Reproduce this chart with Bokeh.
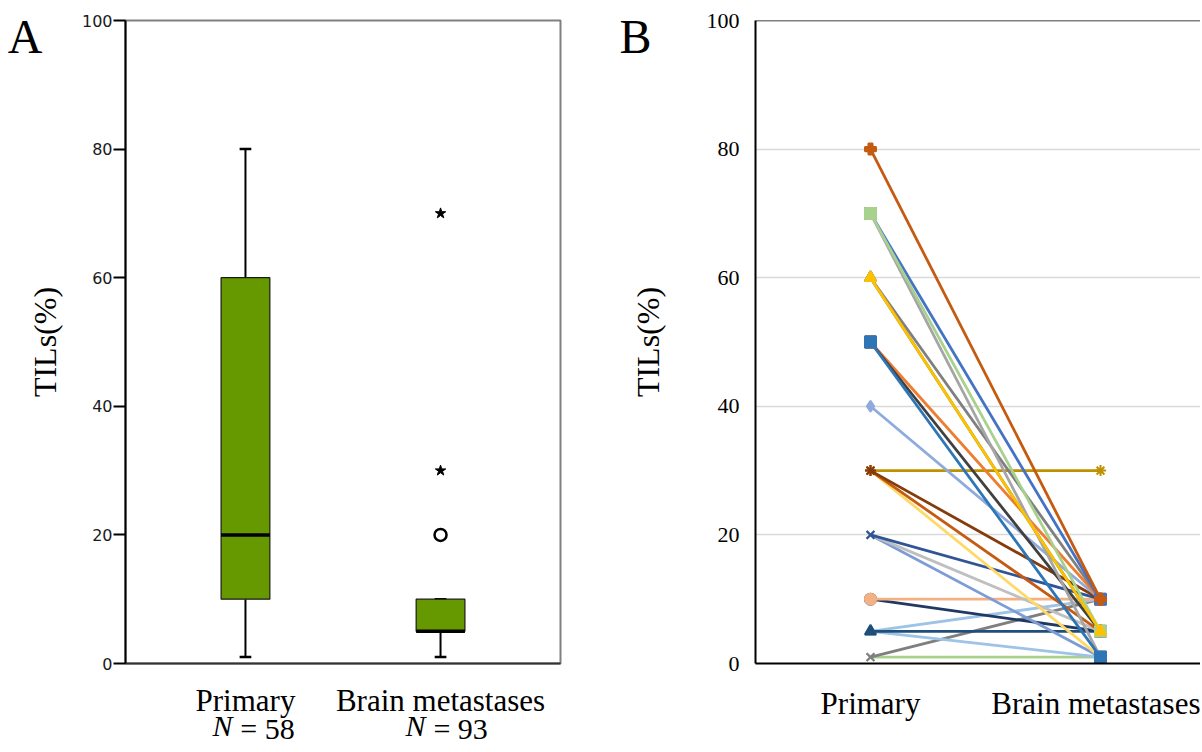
import numpy as np
from bokeh.plotting import figure
from bokeh.layouts import row
from bokeh.models import Span, FixedTicker, Range1d, LinearAxis
from bokeh.embed import file_html
from bokeh.resources import INLINE

# ---------------- Panel A data (box plot) ----------------
groups = ["Primary", "Brain metastases"]
group_n = [58, 93]
whisker_low = [1, 1]
q1 = [10, 5]
median = [20, 5]
q3 = [60, 10]
whisker_high = [80, 10]
mild_outlier_group = [2]
mild_outlier_val = [20]
extreme_outlier_group = [2, 2]
extreme_outlier_val = [30, 70]
y_ticks = [0, 20, 40, 60, 80, 100]
panel_letters = ["A", "B"]

# ---------------- Panel B data (paired lines) ----------------
primary_tils = [1, 1, 5, 5, 5, 10, 10, 20, 20, 20, 30, 30, 30, 30, 40,
                50, 50, 60, 60, 70, 70, 70, 60, 80, 50]
brain_tils = [1, 10, 1, 10, 5, 5, 10, 1, 5, 10, 30, 1, 5, 10, 10,
              10, 5, 5, 10, 1, 10, 5, 5, 10, 1]
series_colors = ["#A9D18E", "#7F7F7F", "#9DC3E6", "#9DC3E6", "#1F4E79",
                 "#203864", "#F4B183", "#7C9CD6", "#BFBFBF", "#2F5597",
                 "#BF9000", "#FFD966", "#C55A11", "#843C0C", "#8FAADC",
                 "#ED7D31", "#404040", "#548235", "#7F7F7F", "#A5A5A5",
                 "#4472C4", "#A9D18E", "#FFC000", "#C55A11", "#2E75B6"]
series_markers = ["x", "x", "triangle", "triangle", "triangle",
                  "circle", "circle", "x", "x", "x",
                  "asterisk", "asterisk", "asterisk", "asterisk", "diamond",
                  "square", "square", "triangle", "triangle", "square",
                  "square", "square", "triangle", "plus", "square"]

SERIF = "Liberation Serif"
H = 750


def text_axis(p, side, ticks, labels, size, standoff, style="normal", font=SERIF):
    ticks = [round(float(t), 3) for t in ticks]
    axis = LinearAxis(ticker=FixedTicker(ticks=ticks),
                      major_label_overrides={t: l for t, l in zip(ticks, labels)})
    axis.axis_line_color = None
    axis.major_tick_line_color = None
    axis.minor_tick_line_color = None
    axis.major_tick_out = 0
    axis.major_tick_in = 0
    axis.major_label_text_font = font
    axis.major_label_text_font_size = size
    axis.major_label_text_font_style = style
    axis.major_label_text_color = "black"
    axis.major_label_standoff = standoff
    p.add_layout(axis, side)
    return axis


# ============ Panel A ============
pa = figure(width=603, height=H, output_backend="svg", toolbar_location=None,
            x_range=Range1d(0.385, 2.615), y_range=Range1d(0, 100),
            min_border_left=125, min_border_right=43, min_border_top=20,
            min_border_bottom=H - 663)
pa.outline_line_color = "#808080"
pa.outline_line_width = 2
pa.xgrid.visible = False
pa.ygrid.visible = False

gx = np.arange(1, len(groups) + 1)
bw = 0.125
cw = 0.03
pa.segment(x0=gx, x1=gx, y0=q3, y1=whisker_high, line_color="black", line_width=2)
pa.segment(x0=gx, x1=gx, y0=q1, y1=whisker_low, line_color="black", line_width=2)
pa.segment(x0=gx - cw, x1=gx + cw, y0=whisker_high, y1=whisker_high, line_color="black", line_width=2.5)
pa.segment(x0=gx - cw, x1=gx + cw, y0=whisker_low, y1=whisker_low, line_color="black", line_width=2.5)
pa.quad(left=gx - bw, right=gx + bw, bottom=q1, top=q3, fill_color="#669900",
        line_color="#1a1a1a", line_width=1.2)
pa.segment(x0=gx - bw, x1=gx + bw, y0=median, y1=median, line_color="black", line_width=3.5)
pa.scatter(x=mild_outlier_group, y=mild_outlier_val, marker="circle", size=12,
           fill_color="white", line_color="black", line_width=2.5)
pa.scatter(x=extreme_outlier_group, y=extreme_outlier_val, marker="star", size=11,
           fill_color="black", line_color="black", line_width=1)

pa.yaxis.ticker = FixedTicker(ticks=y_ticks)
pa.yaxis.axis_label = "TILs(%)"
pa.yaxis.axis_label_text_font = SERIF
pa.yaxis.axis_label_text_font_size = "32px"
pa.yaxis.axis_label_text_font_style = "normal"
pa.yaxis.axis_label_text_color = "black"
pa.yaxis.axis_label_standoff = 16
pa.yaxis.major_label_text_font = "DejaVu Sans"
pa.yaxis.major_label_text_font_size = "16px"
pa.yaxis.major_label_text_color = "#1a1a1a"
pa.yaxis.major_label_standoff = 1
pa.yaxis.major_tick_out = 12
pa.yaxis.major_tick_in = 0
pa.yaxis.major_tick_line_width = 2
pa.yaxis.major_tick_line_color = "black"
pa.yaxis.minor_tick_line_color = None
pa.yaxis.axis_line_width = 2
pa.yaxis.axis_line_color = "black"

pa.xaxis.ticker = FixedTicker(ticks=list(gx))
pa.xaxis.major_label_overrides = {int(i): g for i, g in zip(gx, groups)}
pa.xaxis.major_label_text_font = SERIF
pa.xaxis.major_label_text_font_size = "31px"
pa.xaxis.major_label_text_color = "black"
pa.xaxis.major_label_standoff = 19
pa.xaxis.major_tick_line_color = None
pa.xaxis.minor_tick_line_color = None
pa.xaxis.major_tick_out = 0
pa.xaxis.major_tick_in = 0
pa.xaxis.axis_line_width = 2
pa.xaxis.axis_line_color = "#333333"


def ax(px):
    return 0.385 + (px - 125) / 195.0


def ay(py):
    return (663 - py) / 6.43


# second text row under the categories: "N = 58", "N = 93" (italic N)
n_eq_centers = [267, 460]
n_sym_centers = [222, 415]
text_axis(pa, "below", [ax(c) for c in n_eq_centers], ["= %d" % n for n in group_n],
          "30px", -9)
text_axis(pa, "below", [ax(c) for c in n_sym_centers], ["N" for _ in group_n],
          "30px", -39, style="italic")
# panel letter
text_axis(pa, "left", [ay(36)], [panel_letters[0]], "48px", -19)

# ============ Panel B ============
pb = figure(width=597, height=H, output_backend="svg", toolbar_location=None,
            x_range=Range1d(0.5, 0.5 + 445 / 230.0), y_range=Range1d(0, 100),
            min_border_left=152, min_border_right=0, min_border_top=20,
            min_border_bottom=H - 663)
pb.outline_line_color = None
pb.xgrid.visible = False
pb.ygrid.ticker = FixedTicker(ticks=y_ticks)
pb.ygrid.grid_line_color = "#d9d9d9"
pb.ygrid.grid_line_width = 1.5

for a, b, c, m in zip(primary_tils, brain_tils, series_colors, series_markers):
    pb.line(x=[1, 2], y=[a, b], line_color=c, line_width=2.8)
    pb.scatter(x=[1, 2], y=[a, b], marker=m, size=11, fill_color=c, line_color=c,
               line_width=2)

pb.add_layout(Span(location=100, dimension="width", line_color="black", line_width=1.5))

pb.yaxis.ticker = FixedTicker(ticks=y_ticks)
pb.yaxis.axis_label = "TILs(%)"
pb.yaxis.axis_label_text_font = SERIF
pb.yaxis.axis_label_text_font_size = "32px"
pb.yaxis.axis_label_text_font_style = "normal"
pb.yaxis.axis_label_text_color = "black"
pb.yaxis.axis_label_standoff = 38
pb.yaxis.major_label_text_font = SERIF
pb.yaxis.major_label_text_font_size = "22px"
pb.yaxis.major_label_text_color = "black"
pb.yaxis.major_label_standoff = 16
pb.yaxis.major_tick_line_color = None
pb.yaxis.minor_tick_line_color = None
pb.yaxis.major_tick_out = 0
pb.yaxis.major_tick_in = 0
pb.yaxis.axis_line_width = 2
pb.yaxis.axis_line_color = "black"

pb.xaxis.ticker = FixedTicker(ticks=[1, 2])
pb.xaxis.major_label_overrides = {1: groups[0], 2: groups[1]}
pb.xaxis.major_label_text_font = SERIF
pb.xaxis.major_label_text_font_size = "31px"
pb.xaxis.major_label_text_color = "black"
pb.xaxis.major_label_standoff = 22
pb.xaxis.major_tick_line_color = None
pb.xaxis.minor_tick_line_color = None
pb.xaxis.major_tick_out = 0
pb.xaxis.major_tick_in = 0
pb.xaxis.axis_line_width = 2
pb.xaxis.axis_line_color = "black"

text_axis(pb, "left", [ay(36)], [panel_letters[1]], "48px", -25)

layout = row(pa, pb)
open("out.html", "w").write(file_html(layout, INLINE))
